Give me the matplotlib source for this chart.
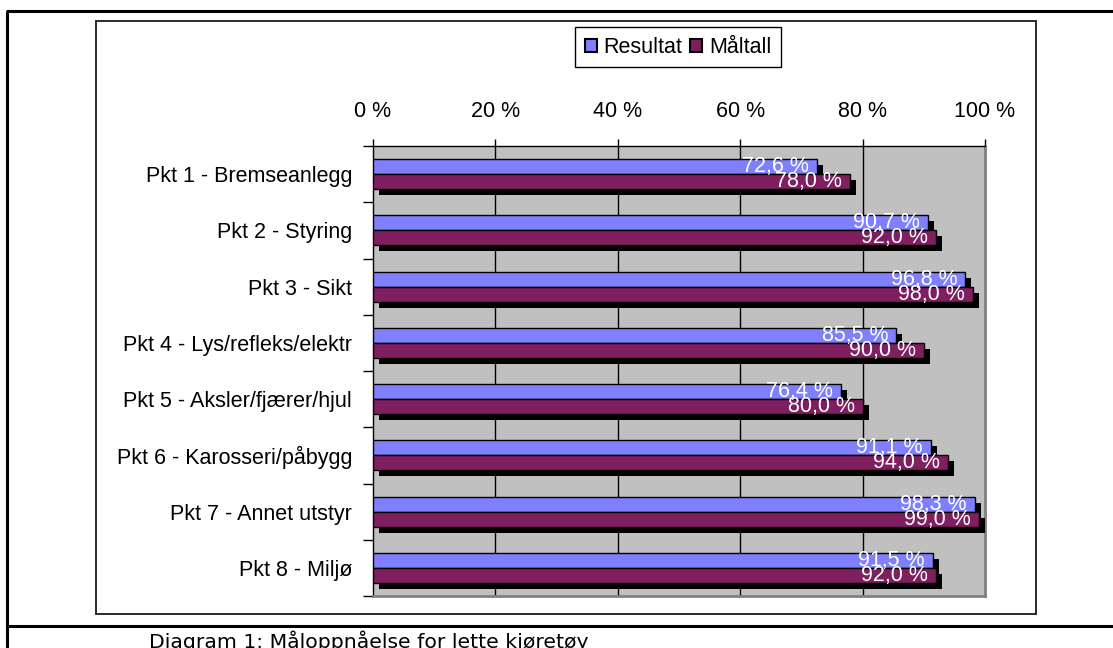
import matplotlib
matplotlib.use("Agg")
import matplotlib.pyplot as plt
import matplotlib.patheffects as pe
from matplotlib.patches import Patch, Rectangle
from matplotlib.lines import Line2D
import numpy as np

plt.rcParams['font.family'] = ['Liberation Sans', 'DejaVu Sans']

categories = [
    "Pkt 1 - Bremseanlegg",
    "Pkt 2 - Styring",
    "Pkt 3 - Sikt",
    "Pkt 4 - Lys/refleks/elektr",
    "Pkt 5 - Aksler/fjærer/hjul",
    "Pkt 6 - Karosseri/påbygg",
    "Pkt 7 - Annet utstyr",
    "Pkt 8 - Miljø",
]
resultat = [72.6, 90.7, 96.8, 85.5, 76.4, 91.1, 98.3, 91.5]
maltall = [78.0, 92.0, 98.0, 90.0, 80.0, 94.0, 99.0, 92.0]
series_names = ["Resultat", "Måltall"]
x_ticks = [0, 20, 40, 60, 80, 100]
caption = "Diagram 1: Måloppnåelse for lette kjøretøy"

W, H = 1113, 648
fig = plt.figure(figsize=(W / 100, H / 100), dpi=100)
fig.patch.set_facecolor("white")


def fx(px):
    return px / W


def fy(py):
    return 1 - py / H


# outer document frame and caption separator
for xs, ys in [((6, W), (11, 11)), ((7, 7), (11, H)), ((6, W), (626, 626))]:
    fig.add_artist(Line2D([fx(x) for x in xs], [fy(y) for y in ys],
                          color="black", lw=2.2, solid_capstyle="butt"))

# chart frame
fig.add_artist(Rectangle((fx(96), fy(614)), fx(1036) - fx(96), fy(21) - fy(614),
                         facecolor="white", edgecolor="#1a1a1a", lw=1.3, zorder=0))

ax = fig.add_axes([fx(373), fy(596), fx(985) - fx(373), fy(146) - fy(596)])
ax.set_facecolor("#C0C0C0")

blue = "#8080FF"
plum = "#7F1F5F"
bh = 0.267
y = np.arange(len(categories))
shadow = [pe.SimplePatchShadow(offset=(4.3, -4.3), shadow_rgbFace="black", alpha=1.0),
          pe.Normal()]

for vals, col, dy in [(resultat, blue, -bh / 2), (maltall, plum, bh / 2)]:
    bars = ax.barh(y + dy, vals, height=bh, color=col, edgecolor="black",
                   lw=1.0, zorder=3)
    for b in bars:
        b.set_path_effects(shadow)
    for yi, v in zip(y + dy, vals):
        ax.annotate(f"{v:.1f} %".replace(".", ","), xy=(v, yi),
                    xytext=(-8, 0), textcoords="offset pixels",
                    ha="right", va="center", color="white", fontsize=15.5,
                    zorder=5)

ax.set_xlim(0, 100)
ax.set_ylim(len(categories) - 0.5, -0.5)

for gx in x_ticks[1:-1]:
    ax.axvline(gx, color="black", lw=1.0, zorder=1)

ax.xaxis.tick_top()
ax.set_xticks(x_ticks)
ax.set_xticklabels([f"{t} %" for t in x_ticks], fontsize=15.5)
ax.tick_params(axis="x", which="major", direction="out", length=5, width=1,
               pad=12, colors="black")

ax.set_yticks(y)
ax.set_yticklabels(categories, fontsize=15.5)
ax.set_yticks(np.arange(-0.5, len(categories)), minor=True)
ax.tick_params(axis="y", which="major", length=0, pad=15)
ax.tick_params(axis="y", which="minor", direction="out", length=7, width=1,
               colors="black")

for side in ["top", "left"]:
    ax.spines[side].set_color("black")
    ax.spines[side].set_linewidth(1.0)
for side in ["right", "bottom"]:
    ax.spines[side].set_color("#808080")
    ax.spines[side].set_linewidth(2.0)

handles = [Patch(facecolor=blue, edgecolor="black", lw=1.5),
           Patch(facecolor=plum, edgecolor="black", lw=1.5)]
leg = fig.legend(handles, series_names, loc="upper left",
                 bbox_to_anchor=(fx(575), fy(27)), borderaxespad=0,
                 fontsize=15.5, frameon=True, fancybox=False, framealpha=1,
                 edgecolor="black", handlelength=0.55, handleheight=0.55,
                 handletextpad=0.3, columnspacing=0.4, ncol=2,
                 borderpad=0.45)
leg.get_frame().set_linewidth(1.0)

fig.text(fx(149), fy(641), caption, family="DejaVu Sans", fontsize=14.7,
         ha="left", va="center", color="black")

fig.savefig("out.png", dpi=100, facecolor="white")
